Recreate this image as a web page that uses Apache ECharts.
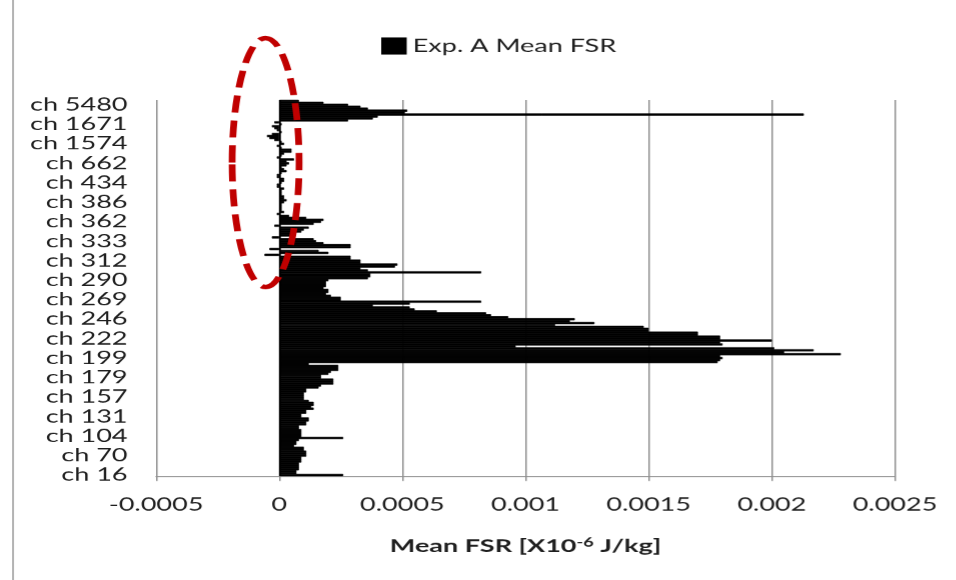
<!DOCTYPE html>
<html><head><meta charset="utf-8">
<script src="https://cdn.jsdelivr.net/npm/echarts@6/dist/echarts.min.js"></script>
<style>
html,body{margin:0;padding:0;background:#fff;overflow:hidden;}
#wrap{width:956px;height:580px;overflow:hidden;position:relative;background:#fff;}
#chart{width:637.333px;height:580px;transform:scaleX(1.5);transform-origin:0 0;}
</style></head><body><div id="wrap"><div id="chart"></div></div>
<script>
// Labelled categories (every 10th category, bottom to top)
const labeledCategories = ['ch 16','ch 70','ch 104','ch 131','ch 157','ch 179','ch 199','ch 222','ch 246','ch 269',
  'ch 290','ch 312','ch 333','ch 362','ch 386','ch 434','ch 662','ch 1574','ch 1671','ch 5480'];
const labelStep = 10;
const seriesName = 'Exp. A Mean FSR';
const xTickMin = -0.0005, xTickMax = 0.0025, xTickInterval = 0.0005;
// Mean FSR values, bottom (index 0) to top
const fsrValues = [
  0.00026,0.00007,0.00007,0.00008,0.00008,0.00008,0.00008,0.00009,0.00009,0.00009,
  0.00011,0.00011,0.00011,0.0001,0.0001,0.00006,0.00007,0.00007,0.00008,0.00026,
  0.00009,0.00009,0.00009,0.00009,0.00008,0.00008,0.00011,0.00011,0.00012,0.00012,
  0.00009,0.00009,0.00011,0.00011,0.00014,0.00013,0.00014,0.00014,0.00012,0.0001,
  0.0001,0.0001,0.0001,0.00011,0.00011,0.00016,0.00017,0.00022,0.00022,0.00022,
  0.00017,0.00017,0.0002,0.00021,0.00024,0.00024,0.00024,0.00012,0.00178,0.00179,
  0.0018,0.00179,0.00228,0.00205,0.00217,0.00201,0.00096,0.0018,0.00179,0.002,
  0.00179,0.00179,0.0017,0.0017,0.0015,0.0015,0.00148,0.00112,0.00128,0.00118,
  0.0012,0.00093,0.00086,0.00084,0.00064,0.00055,0.00053,0.00038,0.00053,0.00082,
  0.00025,0.00025,0.00021,0.00019,0.0002,0.0002,0.00018,0.00019,0.00019,0.00019,
  0.0002,0.00036,0.00037,0.00037,0.00082,0.00036,0.00033,0.00047,0.00048,0.00033,
  0.00033,0.00029,0.00029,-0.00006,0.0002,0.00016,-0.00004,0.00029,0.00029,0.00018,
  0.00015,0.00014,-0.00003,0.00006,0.00006,0.00009,0.0001,0.00012,-0.00002,0.00014,
  0.00017,0.00018,0.00011,0.00004,-0.00001,0.00002,0.00001,0.00001,0.00001,0.00001,
  0.00002,0.00003,0.00002,0.00002,0.00001,0.00001,0.00001,0.00002,-0.00001,-0.00001,
  0.00001,0.00002,0.00002,-0.00001,-0.00001,0.00001,0.00003,0.00002,0.00001,0.00003,
  0.00004,0.00003,0.00006,-0.00001,0.00001,0.00002,0.00005,0.00005,0.00001,-0.00001,
  0.00002,0.00001,-0.00002,-0.00004,-0.00005,-0.00003,0.00001,-0.00001,-0.00002,-0.00003,
  0.00001,-0.00002,0.00028,0.00038,0.0004,0.00213,0.00051,0.00052,0.00036,0.00033,
  0.00028,0.00018,0.00008
];

const categories = fsrValues.map((v, i) => i % labelStep === 0 ? labeledCategories[i / labelStep] : '');
const FONT = 'Lato';
const TXT = '#1f1f1f';
const GRID = '#8f8f8f';

const chart = echarts.init(document.getElementById('chart'), null, {renderer: 'canvas', devicePixelRatio: 1.5});
chart.setOption({
  animation: false,
  backgroundColor: '#fff',
  textStyle: {fontFamily: FONT},
  legend: {
    data: [seriesName], left: 254, top: 37, padding: 0,
    icon: 'rect', itemWidth: 15, itemHeight: 15,
    textStyle: {fontFamily: FONT, fontSize: 18, color: TXT}
  },
  grid: {left: 104, right: 40.67, top: 100, bottom: 104, containLabel: false},
  xAxis: {
    type: 'value', min: xTickMin, max: xTickMax, interval: xTickInterval,
    axisLine: {show: true, lineStyle: {color: GRID, width: 1}},
    axisTick: {show: true, length: 5, lineStyle: {color: GRID, width: 1}},
    splitLine: {show: true, lineStyle: {color: GRID, width: 1}},
    axisLabel: {
      fontFamily: FONT, fontSize: 18, color: TXT, margin: 20, hideOverlap: false,
      formatter: v => String(+v.toFixed(4))
    },
    name: 'Mean FSR [X10{sup|-6} J/kg]', nameLocation: 'middle', nameGap: 61,
    nameTextStyle: {
      fontFamily: FONT, fontSize: 18, fontWeight: 'bold', color: TXT,
      rich: {sup: {fontFamily: FONT, fontSize: 12, fontWeight: 'bold', color: TXT, verticalAlign: 'top'}}
    }
  },
  yAxis: {
    type: 'category', data: categories,
    axisLine: {show: false, onZero: false},
    axisTick: {show: false},
    splitLine: {show: false},
    axisLabel: {interval: labelStep - 1, fontFamily: FONT, fontSize: 18, color: TXT, margin: 19}
  },
  series: [{
    name: seriesName, type: 'bar', data: fsrValues,
    barWidth: 2.3, itemStyle: {color: '#000', borderColor: '#000', borderWidth: 0.5},
    markLine: {
      silent: true, symbol: 'none', label: {show: false},
      lineStyle: {color: '#000', type: 'solid', width: 1.2},
      data: [{xAxis: 0}]
    }
  }],
  graphic: [{
    type: 'line', silent: true,
    shape: {x1: 8.67, y1: 0, x2: 8.67, y2: 580},
    style: {stroke: '#9a9a9a', lineWidth: 1}
  }, {
    type: 'ellipse', silent: true, z: 100,
    shape: {cx: 177, cy: 162.5, rx: 22.3, ry: 124.5},
    style: {fill: null, stroke: '#c00000', lineWidth: 4.5, lineDash: [17, 8]}
  }]
});
</script></body></html>
